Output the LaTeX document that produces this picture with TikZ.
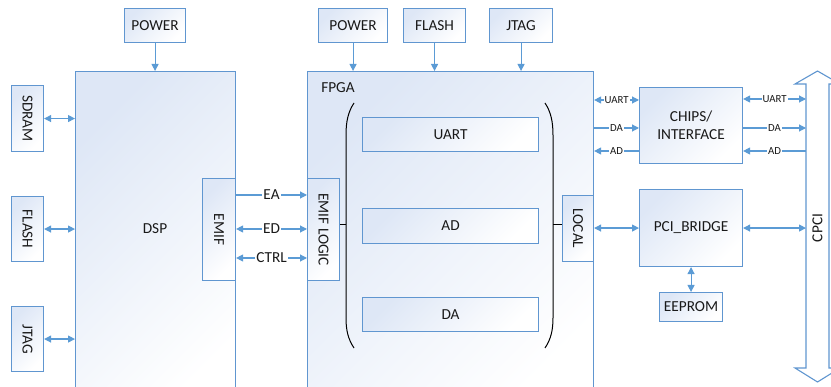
\documentclass[tikz,border=0pt]{standalone}
\usepackage{fontspec}
\setmainfont{Carlito}
\usetikzlibrary{arrows.meta}
\definecolor{bord}{RGB}{96,150,208}
\definecolor{lin}{RGB}{91,155,213}
\definecolor{shadeblue}{RGB}{222,231,246}
\begin{document}
\begin{tikzpicture}[x=1pt,y=-1pt,
  box/.style={draw=bord, line width=1.1pt, top color=shadeblue, bottom color=white, shading angle=45,
    anchor=north west, inner sep=0pt, font=\fontsize{15.3}{18}\selectfont, text=black!90},
  txt/.style={font=\fontsize{15.3}{18}\selectfont, text=black!90, inner sep=0pt},
  arr/.style={draw=lin, line width=1.1pt, -{Triangle[length=7pt,width=7pt]}},
  dbl/.style={draw=lin, line width=1.1pt, {Triangle[length=7pt,width=7pt]}-{Triangle[length=7pt,width=7pt]}},
  rarr/.style={draw=lin, line width=1.1pt, {Triangle[length=7pt,width=7pt]}-},
  lbl/.style={fill=white, inner sep=1pt, font=\fontsize{15.3}{18}\selectfont, text=black!90},
  slbl/.style={fill=white, inner sep=1pt, font=\fontsize{10.8}{12}\selectfont, text=black!90},
  brk/.style={draw=black, line width=1pt}]
\useasboundingbox (0,0) rectangle (831,387);
\clip (0,0) rectangle (831,387);

% DSP side
\node[box, minimum width=61pt, minimum height=34pt] (dsppow) at (124,8) {POWER};
\node[box, minimum width=160pt, minimum height=340pt] (dsp) at (75,71) {};
\node[txt] (dsptxt) at (155,229) {DSP};
\node[box, minimum width=32pt, minimum height=66pt] (sdram) at (11,85) {\rotatebox{-90}{SDRAM}};
\node[box, minimum width=32pt, minimum height=65pt] (flashl) at (11,196) {\rotatebox{-90}{FLASH}};
\node[box, minimum width=32pt, minimum height=65pt] (jtagl) at (11,306) {\rotatebox{-90}{JTAG}};
\node[box, minimum width=33pt, minimum height=102pt] (emif) at (202,178) {\rotatebox{-90}{EMIF}};

% FPGA side
\node[box, minimum width=69pt, minimum height=34pt] (fpow) at (318,8) {POWER};
\node[box, minimum width=62pt, minimum height=34pt] (fflash) at (403,8) {FLASH};
\node[box, minimum width=63pt, minimum height=34pt] (fjtag) at (489,8) {JTAG};
\node[box, minimum width=286pt, minimum height=340pt] (fpga) at (307,71) {};
\node[txt] (fpgatxt) at (338,88) {FPGA};
\node[box, minimum width=32pt, minimum height=102pt] (emiflogic) at (307,178) {\rotatebox{-90}{EMIF LOGIC}};
\node[box, minimum width=176pt, minimum height=34pt] (uart) at (362,117) {UART};
\node[box, minimum width=176pt, minimum height=35pt] (ad) at (362,208) {AD};
\node[box, minimum width=176pt, minimum height=34pt] (da) at (362,297) {DA};
\node[box, minimum width=31pt, minimum height=66pt] (local) at (562,195) {\rotatebox{-90}{LOCAL}};

% right side
\node[box, minimum width=103pt, minimum height=76pt, align=center] (chips) at (639,87) {CHIPS/\\INTERFACE};
\node[box, minimum width=103pt, minimum height=77pt] (pci) at (639,189) {PCI\_BRIDGE};
\node[box, minimum width=63pt, minimum height=29pt] (eeprom) at (659,292) {EEPROM};

% CPCI double arrow
\draw[draw=bord, line width=1.1pt, fill=white]
  (817.5,71) -- (840,84) -- (829,84) -- (829,368) -- (840,368) -- (817.5,382)
  -- (795,368) -- (806,368) -- (806,84) -- (795,84) -- cycle;
\node[txt, rotate=90] (cpci) at (817.5,228) {CPCI};
\coordinate (cpciw) at (806,228);

% brackets
\draw[brk] (354,103) .. controls (348,112) and (346,122) .. (346,135) -- (346,318)
  .. controls (346,330) and (348,339) .. (354,348);
\draw[brk] (545,103) .. controls (551,112) and (553,122) .. (553,135) -- (553,318)
  .. controls (553,330) and (551,339) .. (545,348);
\coordinate (lbr) at (346,225);
\coordinate (rbr) at (553,225);
\draw[brk] (emiflogic.east |- lbr) -- (lbr);
\draw[brk] (rbr) -- (rbr -| local.west);

% power / config arrows
\draw[arr] (dsppow.south) -- (dsppow.south |- dsp.north);
\draw[arr] (fpow.south) -- (fpow.south |- fpga.north);
\draw[arr] (fflash.south) -- (fflash.south |- fpga.north);
\draw[arr] (fjtag.south) -- (fjtag.south |- fpga.north);

% DSP peripherals
\draw[dbl] (sdram.east) -- (sdram.east -| dsp.west);
\draw[dbl] (flashl.east) -- (flashl.east -| dsp.west);
\draw[dbl] (jtagl.east) -- (jtagl.east -| dsp.west);

% EMIF buses
\draw[arr] (emif.east |- 0,195) -- (emiflogic.west |- 0,195) node[midway, lbl] {EA};
\draw[dbl] (emif.east |- 0,229) -- (emiflogic.west |- 0,229) node[midway, lbl] {ED};
\draw[dbl] (emif.east |- 0,258) -- (emiflogic.west |- 0,258) node[midway, lbl] {CTRL};

% FPGA <-> CHIPS
\draw[dbl] (fpga.east |- 0,100) -- (chips.west |- 0,100) node[midway, slbl] {UART};
\draw[arr] (fpga.east |- 0,128) -- (chips.west |- 0,128) node[midway, slbl] {DA};
\draw[rarr] (fpga.east |- 0,151) -- (chips.west |- 0,151) node[midway, slbl] {AD};

% CHIPS <-> CPCI
\draw[dbl] (chips.east |- 0,99) -- (cpciw |- 0,99) node[midway, slbl] {UART};
\draw[arr] (chips.east |- 0,128) -- (cpciw |- 0,128) node[midway, slbl] {DA};
\draw[rarr] (chips.east |- 0,151) -- (cpciw |- 0,151) node[midway, slbl] {AD};

% PCI bridge
\draw[dbl] (fpga.east |- pci.west) -- (pci.west);
\draw[dbl] (pci.east) -- (cpciw |- pci.east);
\draw[dbl] (pci.south) -- (eeprom.north);
\end{tikzpicture}
\end{document}
